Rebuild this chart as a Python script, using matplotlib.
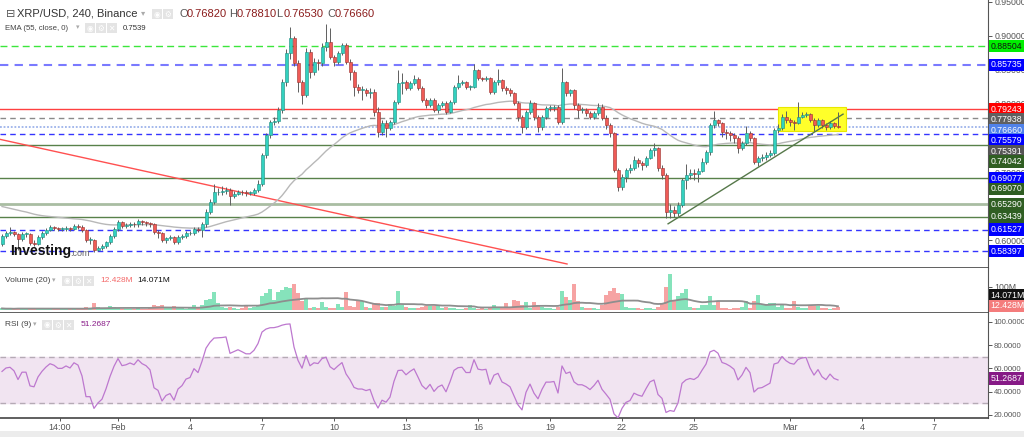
import numpy as np
import pandas as pd
import matplotlib
matplotlib.use("Agg")
import matplotlib.pyplot as plt
from matplotlib.patches import Rectangle

plt.rcParams["font.family"] = ["Liberation Sans", "DejaVu Sans"]

# --- data: XRP/USD 4h candles (x in days, 0 = Feb 1) -------------------
first_day = -29 / 6
first_open = 0.595

closes = [
    0.606, 0.611, 0.612, 0.609, 0.601, 0.609, 0.609, 0.596, 0.595, 0.604,
    0.610, 0.615, 0.619, 0.618, 0.616, 0.616, 0.618, 0.617, 0.621, 0.620,
    0.615, 0.600, 0.600, 0.586, 0.589, 0.591, 0.597, 0.606, 0.616, 0.626,
    0.621, 0.622, 0.624, 0.623, 0.628, 0.626, 0.625, 0.623, 0.612, 0.610,
    0.600, 0.603, 0.604, 0.598, 0.604, 0.606, 0.610, 0.611, 0.617, 0.615,
    0.624, 0.642, 0.656, 0.670, 0.671, 0.672, 0.674, 0.665, 0.668, 0.671,
    0.670, 0.669, 0.669, 0.673, 0.683, 0.725, 0.754, 0.773, 0.775, 0.791,
    0.832, 0.875, 0.897, 0.860, 0.832, 0.813, 0.876, 0.847, 0.862, 0.860,
    0.884, 0.891, 0.869, 0.862, 0.875, 0.887, 0.862, 0.847, 0.825, 0.820,
    0.820, 0.816, 0.818, 0.788, 0.759, 0.772, 0.765, 0.773, 0.803, 0.831,
    0.832, 0.823, 0.831, 0.837, 0.823, 0.806, 0.798, 0.806, 0.791, 0.798,
    0.801, 0.788, 0.803, 0.825, 0.831, 0.832, 0.825, 0.825, 0.850, 0.838,
    0.837, 0.838, 0.818, 0.832, 0.835, 0.823, 0.820, 0.816, 0.801, 0.781,
    0.766, 0.788, 0.801, 0.781, 0.766, 0.781, 0.794, 0.794, 0.795, 0.773,
    0.832, 0.816, 0.820, 0.798, 0.791, 0.791, 0.787, 0.781, 0.787, 0.795,
    0.779, 0.769, 0.757, 0.703, 0.678, 0.693, 0.703, 0.706, 0.718, 0.713,
    0.710, 0.721, 0.732, 0.735, 0.706, 0.696, 0.641, 0.644, 0.640, 0.652,
    0.688, 0.696, 0.699, 0.697, 0.702, 0.715, 0.729, 0.769, 0.776, 0.772,
    0.759, 0.757, 0.754, 0.750, 0.735, 0.743, 0.757, 0.750, 0.715, 0.721,
    0.722, 0.725, 0.728, 0.762, 0.765, 0.781, 0.776, 0.773, 0.772, 0.781,
    0.784, 0.785, 0.776, 0.769, 0.776, 0.769, 0.766, 0.772, 0.768, 0.7666,
]

highs = [
    0.609, 0.614, 0.620, 0.614, 0.611, 0.612, 0.612, 0.611, 0.600, 0.607,
    0.613, 0.618, 0.622, 0.621, 0.620, 0.619, 0.621, 0.620, 0.624, 0.623,
    0.622, 0.617, 0.604, 0.602, 0.592, 0.594, 0.599, 0.609, 0.619, 0.630,
    0.628, 0.625, 0.627, 0.627, 0.631, 0.630, 0.628, 0.627, 0.625, 0.615,
    0.612, 0.605, 0.607, 0.606, 0.607, 0.609, 0.613, 0.614, 0.619, 0.619,
    0.627, 0.645, 0.660, 0.682, 0.677, 0.680, 0.678, 0.677, 0.672, 0.674,
    0.674, 0.673, 0.672, 0.676, 0.688, 0.728, 0.757, 0.777, 0.781, 0.795,
    0.837, 0.880, 0.913, 0.899, 0.865, 0.835, 0.882, 0.880, 0.868, 0.866,
    0.889, 0.918, 0.912, 0.872, 0.878, 0.890, 0.889, 0.866, 0.850, 0.829,
    0.826, 0.824, 0.823, 0.822, 0.795, 0.776, 0.776, 0.777, 0.806, 0.850,
    0.845, 0.835, 0.834, 0.842, 0.839, 0.826, 0.809, 0.809, 0.808, 0.801,
    0.804, 0.804, 0.806, 0.828, 0.843, 0.835, 0.834, 0.828, 0.858, 0.851,
    0.840, 0.841, 0.840, 0.835, 0.852, 0.837, 0.826, 0.823, 0.818, 0.804,
    0.784, 0.791, 0.806, 0.803, 0.784, 0.784, 0.797, 0.798, 0.799, 0.798,
    0.853, 0.834, 0.822, 0.822, 0.801, 0.795, 0.794, 0.790, 0.790, 0.801,
    0.800, 0.784, 0.772, 0.759, 0.706, 0.697, 0.706, 0.712, 0.723, 0.720,
    0.716, 0.724, 0.736, 0.743, 0.737, 0.710, 0.699, 0.653, 0.650, 0.656,
    0.691, 0.712, 0.705, 0.704, 0.706, 0.720, 0.733, 0.772, 0.789, 0.778,
    0.774, 0.763, 0.760, 0.757, 0.753, 0.746, 0.768, 0.760, 0.752, 0.724,
    0.726, 0.729, 0.733, 0.765, 0.770, 0.785, 0.790, 0.779, 0.776, 0.803,
    0.788, 0.788, 0.787, 0.779, 0.779, 0.778, 0.772, 0.775, 0.773, 0.7881,
]

lows = [
    0.592, 0.603, 0.608, 0.606, 0.586, 0.599, 0.605, 0.593, 0.591, 0.593,
    0.602, 0.607, 0.613, 0.615, 0.613, 0.613, 0.614, 0.614, 0.615, 0.617,
    0.612, 0.597, 0.594, 0.583, 0.584, 0.586, 0.589, 0.595, 0.603, 0.613,
    0.618, 0.618, 0.619, 0.620, 0.620, 0.622, 0.621, 0.619, 0.609, 0.603,
    0.598, 0.596, 0.600, 0.595, 0.595, 0.601, 0.603, 0.607, 0.608, 0.612,
    0.605, 0.620, 0.639, 0.653, 0.666, 0.667, 0.668, 0.651, 0.662, 0.666,
    0.666, 0.665, 0.666, 0.666, 0.670, 0.680, 0.720, 0.750, 0.769, 0.772,
    0.787, 0.826, 0.866, 0.855, 0.818, 0.800, 0.810, 0.838, 0.842, 0.850,
    0.856, 0.878, 0.866, 0.855, 0.858, 0.872, 0.858, 0.835, 0.812, 0.816,
    0.806, 0.812, 0.808, 0.783, 0.752, 0.754, 0.751, 0.761, 0.770, 0.800,
    0.815, 0.820, 0.820, 0.828, 0.820, 0.803, 0.794, 0.795, 0.788, 0.787,
    0.795, 0.785, 0.786, 0.800, 0.822, 0.828, 0.822, 0.820, 0.823, 0.835,
    0.833, 0.834, 0.815, 0.815, 0.828, 0.819, 0.815, 0.812, 0.798, 0.775,
    0.757, 0.763, 0.785, 0.777, 0.759, 0.762, 0.778, 0.790, 0.790, 0.770,
    0.770, 0.812, 0.812, 0.793, 0.780, 0.787, 0.782, 0.778, 0.778, 0.784,
    0.776, 0.763, 0.752, 0.700, 0.672, 0.674, 0.686, 0.699, 0.703, 0.708,
    0.703, 0.707, 0.719, 0.724, 0.702, 0.690, 0.632, 0.633, 0.634, 0.636,
    0.648, 0.675, 0.690, 0.688, 0.685, 0.700, 0.712, 0.725, 0.765, 0.768,
    0.752, 0.749, 0.745, 0.742, 0.728, 0.733, 0.740, 0.745, 0.712, 0.709,
    0.716, 0.718, 0.722, 0.725, 0.758, 0.762, 0.772, 0.768, 0.762, 0.770,
    0.780, 0.781, 0.773, 0.760, 0.766, 0.765, 0.762, 0.763, 0.765, 0.7653,
]

# volume in millions
volumes = [
    6, 4, 5, 3, 8, 5, 4, 6, 7, 5,
    6, 5, 4, 3, 5, 4, 3, 4, 5, 4,
    6, 12, 8, 30, 10, 8, 6, 18, 10, 7,
    5, 4, 3, 5, 8, 4, 3, 6, 19, 15,
    19, 8, 6, 17, 9, 6, 5, 7, 19, 8,
    20, 43, 45, 77, 29, 10, 8, 12, 6, 5,
    7, 19, 6, 10, 15, 58, 72, 91, 43, 79,
    86, 100, 94, 112, 72, 36, 50, 7, 10, 8,
    32, 12, 9, 8, 25, 10, 77, 15, 12, 43,
    36, 10, 8, 30, 30, 12, 10, 26, 15, 82,
    22, 10, 8, 6, 9, 12, 17, 17, 17, 17,
    8, 10, 7, 6, 5, 5, 6, 19, 8, 5,
    6, 5, 12, 22, 8, 6, 29, 10, 43, 36,
    20, 33, 8, 33, 22, 10, 6, 8, 5, 12,
    82, 55, 43, 110, 36, 10, 8, 7, 6, 5,
    19, 65, 80, 94, 72, 68, 10, 8, 7, 6,
    5, 6, 8, 5, 12, 25, 100, 155, 43, 58,
    72, 91, 10, 8, 6, 20, 20, 58, 20, 36,
    8, 6, 5, 7, 8, 10, 40, 6, 36, 65,
    22, 25, 30, 30, 10, 19, 8, 6, 40, 10,
    8, 6, 17, 17, 17, 6, 8, 5, 6, 12.428,
]

ema_seed = 0.651      # EMA value at the left edge
rsi_seed = 0.004      # average move before the first candle

# horizontal levels: price, colour, dashes, width
level_prices = [0.88504, 0.85735, 0.79243, 0.77938, 0.76660, 0.75579,
                0.74042, 0.69070, 0.65290, 0.63439, 0.61527, 0.58397]
level_colors = ["#3ce63c", "#7a7aff", "#ff4040", "#8a8a8a", "#9db3ea", "#3434ff",
                "#58814a", "#58814a", "#a9bda2", "#58814a", "#3434ff", "#3434ff"]
level_dash = [(5, 3), (4, 3), None, (4, 3), (1, 1), (4, 3),
              None, None, None, None, (4, 3), (4, 3)]
level_width = [1, 1.5, 1, 1, 1.3, 1, 1, 1, 2, 1, 1, 1]

# right-hand price tags
tag_prices = [0.88504, 0.85735, 0.79243, 0.77938, 0.76660, 0.75579, 0.75391,
              0.74042, 0.69077, 0.69070, 0.65290, 0.63439, 0.61527, 0.58397]
tag_colors = ["#00ee00", "#0000ff", "#ff0000", "#606060", "#5082ea", "#0000ff", "#555555",
              "#2f5e22", "#0000ff", "#2f5e22", "#2f5e22", "#2f5e22", "#0000ff", "#0000ff"]

# drawings
red_line_days = [-4.917, 18.71]
red_line_prices = [0.748, 0.565]
green_line_days = [22.92, 30.21]
green_line_prices = [0.624, 0.785]
box_days = [27.5, 30.33]
box_prices = [0.760, 0.795]

tick_days = [-2.42, 0, 3, 6, 9, 12, 15, 18, 21, 24, 28, 31, 34]
tick_text = ["14:00", "Feb", "4", "7", "10", "13", "16", "19", "22", "25", "Mar", "4", "7"]

# --- derived series ------------------------------------------------------
c = np.array(closes)
o = np.r_[first_open, c[:-1]]
o[-1] = 0.7682
hi = np.array(highs)
lo = np.array(lows)
vol = np.array(volumes)
x = first_day + np.arange(len(c)) / 6
up = c >= o

ema = pd.Series(np.r_[ema_seed, c]).ewm(span=55, adjust=False).mean().values[1:]
vol_ma = pd.Series(vol).rolling(20, min_periods=1).mean().values

ag = al = rsi_seed
rsi = []
for d in np.diff(np.r_[first_open, c]):
    ag = (ag * 8 + max(d, 0)) / 9
    al = (al * 8 + max(-d, 0)) / 9
    rsi.append(100 - 100 / (1 + ag / al))
rsi = np.array(rsi)

# --- figure --------------------------------------------------------------
W, H = 1024, 437
fig = plt.figure(figsize=(W / 100, H / 100), dpi=100)


def box(top, bottom):
    return [0, 1 - bottom / H, 988 / W, (bottom - top) / H]


ax = fig.add_axes(box(0, 268))
axv = fig.add_axes(box(268, 313), sharex=ax)
axr = fig.add_axes(box(313, 418), sharex=ax)

for a in (ax, axv, axr):
    a.yaxis.tick_right()
    a.spines["left"].set_visible(False)
    a.spines["top"].set_visible(False)
    a.spines["right"].set_color("#555555")
    a.spines["bottom"].set_color("#444444")
    a.spines["bottom"].set_linewidth(1.2)
    a.tick_params(axis="y", direction="out", length=3, width=0.7,
                  colors="#555555", labelsize=6.3, pad=1.5)
    a.tick_params(axis="x", length=0)
ax.tick_params(labelbottom=False)
axv.tick_params(labelbottom=False)
axr.tick_params(axis="y", labelsize=5.6, pad=1)

ax.set_xlim(-118 / 24, 870 / 24)
ax.set_ylim(0.5591, 0.95259)
axv.set_ylim(-14, 181)
axr.set_ylim(17.4, 107.5)

# main panel
ax.set_yticks(np.arange(0.60, 0.951, 0.05))
ax.set_yticklabels(["%.5f" % v for v in np.arange(0.60, 0.951, 0.05)])

for p, col, dsh, lw in zip(level_prices, level_colors, level_dash, level_width):
    ln = ax.axhline(p, color=col, lw=lw, zorder=1)
    if dsh:
        ln.set_dashes(dsh)

ax.plot(red_line_days, red_line_prices, color="#ff5050", lw=1, zorder=2)
ax.add_patch(Rectangle((box_days[0], box_prices[0]), box_days[1] - box_days[0],
                       box_prices[1] - box_prices[0], fc="#ffff2a", ec="#e8e800",
                       lw=0.8, zorder=1.5))
ax.plot(x, ema, color="#b8b8b8", lw=1, zorder=2)
ax.plot(green_line_days, green_line_prices, color="#56784a", lw=1, zorder=4)

ax.vlines(x, lo, hi, color="#5f5f5f", lw=0.7, zorder=3)
ax.bar(x, np.maximum(np.abs(c - o), 0.0012), bottom=np.minimum(o, c), width=0.125,
       color=np.where(up, "#33d1bf", "#ef5b57"),
       edgecolor=np.where(up, "#1d8b7e", "#9a2f2c"), lw=0.4, zorder=3.5)

# right tags, stacked so they do not overlap
gap = 10.5 / 681
pos = []
for p in tag_prices:
    pos.append(p if not pos else min(p, pos[-1] - gap))
for p, t, col in zip(pos, tag_prices, tag_colors):
    ax.text(1.0025, p, "%.5f" % t, transform=ax.get_yaxis_transform(), fontsize=6.3,
            color="#111111" if col == "#00ee00" else "white", va="center", ha="left",
            bbox=dict(boxstyle="square,pad=0.2", fc=col, ec="none"),
            clip_on=False, zorder=6)

# volume panel
axv.bar(x, vol, width=0.14, color=np.where(up, "#86e3bb", "#f6a3a3"), zorder=2)
axv.plot(x, vol_ma, color="#8e8e8e", lw=1.3, zorder=3)
axv.set_yticks([100])
axv.set_yticklabels(["100M"])
axv.text(1.0025, 0.40, "14.071M", transform=axv.transAxes, fontsize=6.3, color="white",
         va="center", bbox=dict(boxstyle="square,pad=0.2", fc="#111111", ec="none"),
         clip_on=False, zorder=6)
axv.text(1.0025, 0.16, "12.428M", transform=axv.transAxes, fontsize=6.3, color="white",
         va="center", bbox=dict(boxstyle="square,pad=0.2", fc="#f47c7c", ec="none"),
         clip_on=False, zorder=6)

# RSI panel
axr.axhspan(30, 70, color="#f1e4f1", zorder=0)
for lvl in (30, 70):
    ln = axr.axhline(lvl, color="#b5aab5", lw=1, zorder=1)
    ln.set_dashes((4, 3))
axr.plot(x, rsi, color="#bd78cf", lw=0.9, zorder=3)
axr.set_yticks([20, 40, 60, 80, 100])
axr.set_yticklabels(["%.4f" % v for v in [20, 40, 60, 80, 100]])
axr.text(1.0025, 51.2687, "51.2687", transform=axr.get_yaxis_transform(), fontsize=6.3,
         color="white", va="center",
         bbox=dict(boxstyle="square,pad=0.2", fc="#861a86", ec="none"),
         clip_on=False, zorder=6)
axr.set_xticks(tick_days)
axr.set_xticklabels(tick_text)
axr.tick_params(axis="x", length=2, width=0.7, colors="#555555", labelsize=6.5, pad=1.5)

# strip under the time axis
fig.patches.append(Rectangle((0, 0), 1, 6 / H, transform=fig.transFigure,
                             fc="#ececec", ec="none"))


# --- legends -------------------------------------------------------------
def ftext(px, py, s, **kw):
    fig.text(px / W, 1 - py / H, s, va="center", ha="left", **kw)


def icons(px, py, n):
    glyphs = ["◉", "⚙", "✕"]
    for k in range(n):
        fig.patches.append(Rectangle(((px + 11 * k) / W, 1 - (py + 5) / H), 10 / W, 10 / H,
                                     transform=fig.transFigure, fc="#e4e4e4", ec="none"))
        ftext(px + 11 * k + 1.5, py, glyphs[k], fontsize=5.5, color="white",
              family=["DejaVu Sans"])


ftext(6, 14, "⊟", fontsize=8, color="#555555")
ftext(17, 14, "XRP/USD, 240, Binance", fontsize=8, color="#333333")
ftext(141, 14, "▾", fontsize=6, color="#aaaaaa")
icons(152, 14, 2)
for px, letter, val in [(179, "O", "0.76820"), (229, "H", "0.78810"),
                        (276, "L", "0.76530"), (327, "C", "0.76660")]:
    ftext(px, 14, letter, fontsize=8, color="#555555")
    ftext(px + 7.5, 14, val, fontsize=8, color="#8b1c1c")

ftext(5, 28, "EMA (55, close, 0)", fontsize=5.6, color="#444444")
ftext(76, 28, "▾", fontsize=5, color="#aaaaaa")
icons(85, 28, 3)
ftext(123, 28, "0.7539", fontsize=5.6, color="#333333")

ftext(10, 251, "Investing", fontsize=10, fontweight="bold", color="#111111")
ftext(70, 253, ".com", fontsize=6.5, color="#666666")

ftext(5, 281, "Volume (20)", fontsize=6, color="#444444")
ftext(52, 281, "▾", fontsize=5, color="#aaaaaa")
icons(62, 281, 3)
ftext(100, 281, "12.428M", fontsize=6, color="#f46a6a")
ftext(137, 281, "14.071M", fontsize=6, color="#111111")

ftext(5, 325, "RSI (9)", fontsize=6, color="#444444")
ftext(33, 325, "▾", fontsize=5, color="#aaaaaa")
icons(42, 325, 3)
ftext(81, 325, "51.2687", fontsize=6, color="#8a1f8a")

fig.savefig("out.png", dpi=100)
